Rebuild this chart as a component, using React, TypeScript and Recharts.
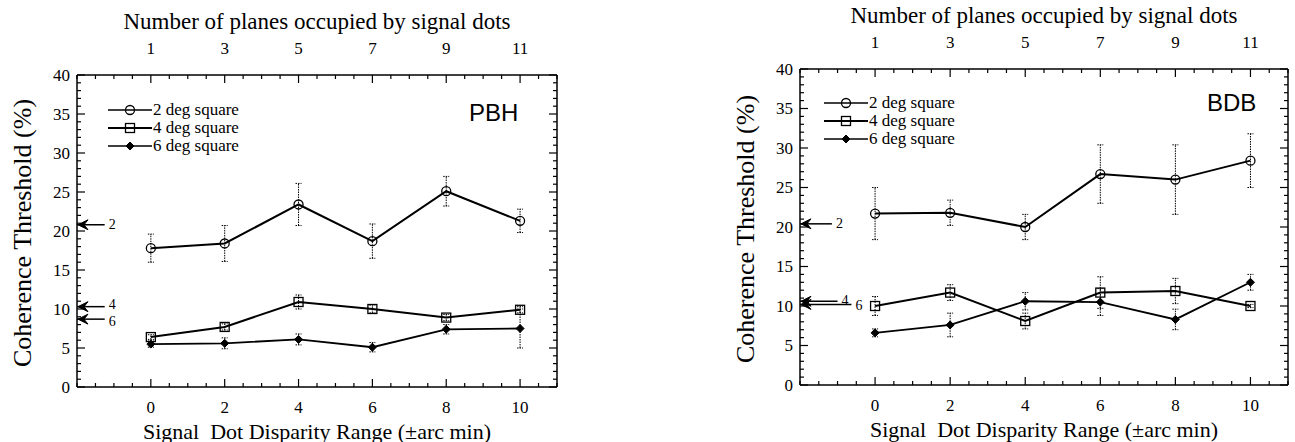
import React from 'react';
import {
  ComposedChart,
  Line,
  XAxis,
  YAxis,
  ErrorBar,
  ReferenceLine,
  ReferenceDot,
  Legend,
} from 'recharts';

// ---------- data ----------
const disparity = [0, 2, 4, 6, 8, 10];
const planeLabels = ['1', '3', '5', '7', '9', '11'];
const yMajorTicks = [0, 5, 10, 15, 20, 25, 30, 35, 40];
const seriesNames = ['2 deg square', '4 deg square', '6 deg square'];
const arrowLabels = ['2', '4', '6'];

// PBH (left panel)
const pbh2 = [17.8, 18.4, 23.4, 18.7, 25.1, 21.3];
const pbh2Err = [1.8, 2.3, 2.7, 2.2, 1.9, 1.5];
const pbh4 = [6.4, 7.7, 10.9, 10.0, 8.9, 9.9];
const pbh4Err = [0.3, 0.4, 0.9, 0.5, 0.4, 0.4];
const pbh6 = [5.5, 5.6, 6.1, 5.1, 7.4, 7.5];
const pbh6Err = [0.4, 0.7, 0.7, 0.6, 0.6, 2.5];
const pbhArrowLevels = [20.8, 10.3, 8.7];
const pbhArrowTails = [-1.25, -1.25, -1.25];

// BDB (right panel)
const bdb2 = [21.7, 21.8, 20.0, 26.7, 26.0, 28.4];
const bdb2Err = [3.3, 1.6, 1.6, 3.7, 4.4, 3.4];
const bdb4 = [10.0, 11.7, 8.1, 11.7, 11.9, 10.0];
const bdb4Err = [1.2, 1.0, 1.0, 2.0, 1.6, 0.2];
const bdb6 = [6.6, 7.6, 10.6, 10.5, 8.3, 13.0];
const bdb6Err = [0.5, 1.5, 1.1, 1.7, 1.3, 1.0];
const bdbArrowLevels = [20.4, 10.6, 10.2];
const bdbArrowTails = [-1.15, -1.0, -0.63];

// axis tick positions
const xTicks: number[] = [];
for (let v = -2; v <= 11.001; v += 0.5) xTicks.push(Math.round(v * 10) / 10);
const yTicks: number[] = [];
for (let v = 0; v <= 40; v += 1) yTicks.push(v);

// ---------- styles ----------
const SERIF = 'Liberation Serif, DejaVu Serif, serif';
const SANS = 'Liberation Sans, Arial, sans-serif';
const TICK_FONT = 17;
const TITLE_FONT = 23;
const XLABEL_FONT = 22;
const YLABEL_FONT = 26;
const ARROW_FONT = 14;

// ---------- markers ----------
const circleShape = (cx: number, cy: number, k?: string) => (
  <circle key={k} cx={cx} cy={cy} r={4.5} fill="none" stroke="#000" strokeWidth={1.3} />
);
const squareShape = (cx: number, cy: number, k?: string) => (
  <rect key={k} x={cx - 4.5} y={cy - 4.5} width={9} height={9} fill="none" stroke="#000" strokeWidth={1.3} />
);
const diamondShape = (cx: number, cy: number, k?: string) => (
  <polygon
    key={k}
    points={`${cx},${cy - 4} ${cx + 4},${cy} ${cx},${cy + 4} ${cx - 4},${cy}`}
    fill="#000"
    stroke="#000"
    strokeWidth={1}
  />
);
const markerFns = [circleShape, squareShape, diamondShape];

const makeDot = (i: number) => (p: any) => {
  if (p.cx == null || p.cy == null) return <g key={`n${i}-${p.index}`} />;
  return markerFns[i](p.cx, p.cy, `d${i}-${p.index}`);
};

// ---------- ticks ----------
const BottomTick = (props: any) => {
  const { x, y, payload } = props;
  const v = payload.value;
  const idx = disparity.indexOf(v);
  const major = idx >= 0;
  return (
    <g>
      <line x1={x} x2={x} y1={y} y2={y - (major ? 8 : 4)} stroke="#000" strokeWidth={1.2} />
      {major && (
        <text x={x} y={y + 20} textAnchor="middle" dominantBaseline="central" fontSize={TICK_FONT} fontFamily={SERIF} fill="#000">
          {String(disparity[idx])}
        </text>
      )}
    </g>
  );
};

const TopTick = (props: any) => {
  const { x, y, payload } = props;
  const v = payload.value;
  const idx = disparity.indexOf(v);
  const major = idx >= 0;
  return (
    <g>
      <line x1={x} x2={x} y1={y} y2={y + (major ? 8 : 4)} stroke="#000" strokeWidth={1.2} />
      {major && (
        <text x={x} y={y - 27} textAnchor="middle" dominantBaseline="central" fontSize={TICK_FONT} fontFamily={SERIF} fill="#000">
          {planeLabels[idx]}
        </text>
      )}
    </g>
  );
};

const LeftTick = (props: any) => {
  const { x, y, payload } = props;
  const v = payload.value;
  const major = yMajorTicks.includes(v);
  return (
    <g>
      <line x1={x} x2={x + (major ? 8 : 4)} y1={y} y2={y} stroke="#000" strokeWidth={1.2} />
      {major && (
        <text x={x - 7} y={y} textAnchor="end" dominantBaseline="central" fontSize={TICK_FONT} fontFamily={SERIF} fill="#000">
          {String(v)}
        </text>
      )}
    </g>
  );
};

const RightTick = (props: any) => {
  const { x, y, payload } = props;
  const v = payload.value;
  const major = yMajorTicks.includes(v);
  return <line x1={x} x2={x - (major ? 8 : 4)} y1={y} y2={y} stroke="#000" strokeWidth={1.2} />;
};

const ArrowHead = (p: any) => (
  <path
    d={`M ${p.cx + 1} ${p.cy} L ${p.cx + 11} ${p.cy - 5} L ${p.cx + 7} ${p.cy} L ${p.cx + 11} ${p.cy + 5} Z`}
    fill="#000"
    stroke="#000"
    strokeWidth={1}
  />
);

// label beside an arrow tail; the close pair "4"/"6" is nudged apart slightly
const makeArrowLabel = (text: string, nudge: number) => (lp: any) => {
  const vb = lp.viewBox || {};
  const x = (vb.x ?? 0) + (vb.width ?? 0) + 4;
  const y = (vb.y ?? 0) + (vb.height ?? 0) / 2 + nudge;
  return (
    <text x={x} y={y} textAnchor="start" dominantBaseline="central" fontSize={ARROW_FONT} fontFamily={SERIF} fill="#000">
      {text}
    </text>
  );
};

// ---------- legend ----------
const LegendContent = () => (
  <div style={{ fontFamily: SERIF, fontSize: 17, color: '#000' }}>
    {seriesNames.map((n, i) => (
      <div key={n} style={{ display: 'flex', alignItems: 'center', height: 18 }}>
        <svg width={44} height={14} style={{ display: 'block' }}>
          <line x1={0} x2={44} y1={7} y2={7} stroke="#000" strokeWidth={i === 1 ? 2 : 1.3} />
          {markerFns[i](22, 7)}
        </svg>
        <span style={{ marginLeft: 1, lineHeight: '18px' }}>{n}</span>
      </div>
    ))}
  </div>
);

// ---------- panel ----------
type PanelProps = {
  left: number;
  width: number;
  margin: { top: number; right: number; bottom: number; left: number };
  yAxisWidth: number;
  rightAxisWidth: number;
  s2: number[];
  e2: number[];
  s4: number[];
  e4: number[];
  s6: number[];
  e6: number[];
  arrowLevels: number[];
  arrowTails: number[];
  arrowNudges: number[];
  name: string;
  nameLeft: number;
  nameTop: number;
  legendLeft: number;
  legendTop: number;
};

const Panel = (p: PanelProps) => {
  const data = disparity.map((x, i) => ({
    x,
    a: p.s2[i],
    ae: p.e2[i],
    b: p.s4[i],
    be: p.e4[i],
    c: p.s6[i],
    ce: p.e6[i],
  }));
  const errProps = { width: 3, stroke: '#000', strokeWidth: 1, strokeDasharray: '1.5 1', direction: 'y' as const };
  return (
    <div style={{ position: 'absolute', left: p.left, top: 0, width: p.width, height: 442, fontFamily: SERIF }}>
      <ComposedChart width={p.width} height={442} data={data} margin={p.margin} style={{ fontFamily: SERIF }}>
        <XAxis
          xAxisId="b"
          dataKey="x"
          type="number"
          domain={[-2, 11]}
          allowDataOverflow
          ticks={xTicks}
          interval={0}
          tickLine={false}
          tickSize={0}
          tickMargin={0}
          height={30}
          axisLine={{ stroke: '#000', strokeWidth: 1.5 }}
          tick={<BottomTick />}
          label={{
            content: (lp: any) => {
              const vb = lp.viewBox || {};
              return (
                <text
                  x={vb.x + vb.width / 2}
                  y={vb.y + 44}
                  textAnchor="middle"
                  dominantBaseline="central"
                  fontSize={XLABEL_FONT}
                  fontFamily={SERIF}
                  fill="#000"
                  style={{ whiteSpace: 'pre' }}
                >
                  {'Signal  Dot Disparity Range (±arc min)'}
                </text>
              );
            },
          }}
        />
        <XAxis
          xAxisId="t"
          orientation="top"
          dataKey="x"
          type="number"
          domain={[-2, 11]}
          allowDataOverflow
          ticks={xTicks}
          interval={0}
          tickLine={false}
          tickSize={0}
          tickMargin={0}
          height={40}
          axisLine={{ stroke: '#000', strokeWidth: 1.5 }}
          tick={<TopTick />}
          label={{
            content: (lp: any) => {
              const vb = lp.viewBox || {};
              return (
                <text
                  x={vb.x + vb.width / 2}
                  y={vb.y + vb.height - 54}
                  textAnchor="middle"
                  dominantBaseline="central"
                  fontSize={TITLE_FONT}
                  fontFamily={SERIF}
                  fill="#000"
                >
                  Number of planes occupied by signal dots
                </text>
              );
            },
          }}
        />
        <YAxis
          yAxisId="l"
          type="number"
          domain={[0, 40]}
          allowDataOverflow
          ticks={yTicks}
          interval={0}
          tickLine={false}
          tickSize={0}
          tickMargin={0}
          width={p.yAxisWidth}
          axisLine={{ stroke: '#000', strokeWidth: 1.5 }}
          tick={<LeftTick />}
          label={{
            content: (lp: any) => {
              const vb = lp.viewBox || {};
              const cx = vb.x + vb.width - 55;
              const cy = vb.y + vb.height / 2 + 2;
              return (
                <text
                  x={cx}
                  y={cy}
                  transform={`rotate(-90 ${cx} ${cy})`}
                  textAnchor="middle"
                  dominantBaseline="central"
                  fontSize={YLABEL_FONT}
                  fontFamily={SERIF}
                  fill="#000"
                >
                  Coherence Threshold (%)
                </text>
              );
            },
          }}
        />
        <YAxis
          yAxisId="r"
          orientation="right"
          type="number"
          domain={[0, 40]}
          allowDataOverflow
          ticks={yTicks}
          interval={0}
          tickLine={false}
          tickSize={0}
          tickMargin={0}
          width={p.rightAxisWidth}
          axisLine={{ stroke: '#000', strokeWidth: 1.5 }}
          tick={<RightTick />}
        />
        <Legend
          layout="vertical"
          align="center"
          verticalAlign="middle"
          content={LegendContent}
          wrapperStyle={{ left: p.legendLeft, top: p.legendTop, width: 200, height: 60 }}
        />
        {p.arrowLevels.map((lv, i) => (
          <ReferenceLine
            key={`al${i}`}
            xAxisId="b"
            yAxisId="l"
            segment={[
              { x: -2, y: lv },
              { x: p.arrowTails[i], y: lv },
            ]}
            stroke="#000"
            strokeWidth={1.5}
            label={{ content: makeArrowLabel(arrowLabels[i], p.arrowNudges[i]) }}
          />
        ))}
        {p.arrowLevels.map((lv, i) => (
          <ReferenceDot key={`ad${i}`} xAxisId="b" yAxisId="l" x={-2} y={lv} r={3} shape={ArrowHead} />
        ))}
        <Line
          xAxisId="b"
          yAxisId="l"
          dataKey="a"
          name={seriesNames[0]}
          type="linear"
          stroke="#000"
          strokeWidth={2}
          dot={makeDot(0)}
          activeDot={false}
          isAnimationActive={false}
        >
          <ErrorBar dataKey="ae" {...errProps} />
        </Line>
        <Line
          xAxisId="b"
          yAxisId="l"
          dataKey="b"
          name={seriesNames[1]}
          type="linear"
          stroke="#000"
          strokeWidth={2}
          dot={makeDot(1)}
          activeDot={false}
          isAnimationActive={false}
        >
          <ErrorBar dataKey="be" {...errProps} />
        </Line>
        <Line
          xAxisId="b"
          yAxisId="l"
          dataKey="c"
          name={seriesNames[2]}
          type="linear"
          stroke="#000"
          strokeWidth={1.8}
          dot={makeDot(2)}
          activeDot={false}
          isAnimationActive={false}
        >
          <ErrorBar dataKey="ce" {...errProps} />
        </Line>
      </ComposedChart>
      <div
        style={{
          position: 'absolute',
          left: p.nameLeft,
          top: p.nameTop,
          fontFamily: SANS,
          fontSize: 24,
          lineHeight: '24px',
          color: '#000',
          pointerEvents: 'none',
        }}
      >
        {p.name}
      </div>
    </div>
  );
};

export default function App() {
  return (
    <div style={{ position: 'absolute', left: 0, top: 0, width: 1295, height: 442, background: '#fff', overflow: 'hidden' }}>
      <Panel
        left={0}
        width={620}
        margin={{ top: 35, right: 53, bottom: 25, left: 0 }}
        yAxisWidth={77}
        rightAxisWidth={10}
        s2={pbh2}
        e2={pbh2Err}
        s4={pbh4}
        e4={pbh4Err}
        s6={pbh6}
        e6={pbh6Err}
        arrowLevels={pbhArrowLevels}
        arrowTails={pbhArrowTails}
        arrowNudges={[0, -2, 2]}
        name="PBH"
        nameLeft={469}
        nameTop={101}
        legendLeft={108}
        legendTop={101}
      />
      <Panel
        left={700}
        width={595}
        margin={{ top: 29, right: 0, bottom: 27, left: 0 }}
        yAxisWidth={100}
        rightAxisWidth={7}
        s2={bdb2}
        e2={bdb2Err}
        s4={bdb4}
        e4={bdb4Err}
        s6={bdb6}
        e6={bdb6Err}
        arrowLevels={bdbArrowLevels}
        arrowTails={bdbArrowTails}
        arrowNudges={[0, -1, 1]}
        name="BDB"
        nameLeft={507}
        nameTop={91}
        legendLeft={124}
        legendTop={94}
      />
    </div>
  );
}
